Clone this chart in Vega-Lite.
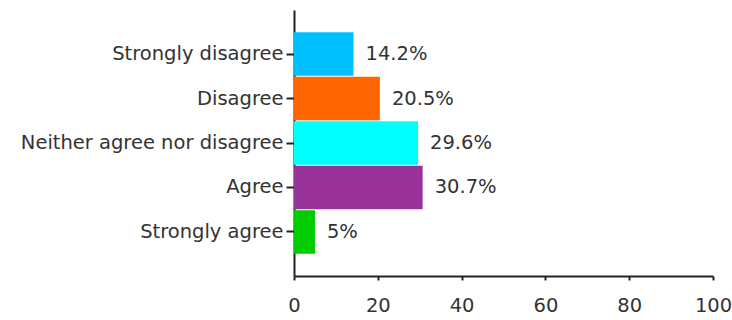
{
  "$schema": "https://vega.github.io/schema/vega-lite/v6.json",
  "autosize": "none",
  "width": 419,
  "height": 266,
  "padding": {"left": 294, "top": 10, "right": 19, "bottom": 44},
  "background": "white",
  "config": {"view": {"stroke": null}, "font": "DejaVu Sans"},
  "data": {"values": [
    {"response": "Strongly disagree", "pct": 14.2, "label": "14.2%", "color": "#00C0FF"},
    {"response": "Disagree", "pct": 20.5, "label": "20.5%", "color": "#FF6600"},
    {"response": "Neither agree nor disagree", "pct": 29.6, "label": "29.6%", "color": "#00FFFF"},
    {"response": "Agree", "pct": 30.7, "label": "30.7%", "color": "#993399"},
    {"response": "Strongly agree", "pct": 5, "label": "5%", "color": "#00CC00"}
  ]},
  "encoding": {
    "y": {
      "field": "response", "type": "nominal", "sort": null,
      "scale": {"paddingInner": 0.02, "paddingOuter": 0.5},
      "axis": {"title": null, "domainColor": "#222", "domainWidth": 2, "tickColor": "#222", "tickWidth": 2, "tickSize": 8,
               "labelFontSize": 19.5, "labelColor": "#333", "labelPadding": 3, "labelLimit": 400}
    },
    "x": {
      "field": "pct", "type": "quantitative",
      "scale": {"domain": [0, 100], "nice": false},
      "axis": {"title": null, "values": [0, 20, 40, 60, 80, 100], "grid": false, "domainColor": "#222", "domainWidth": 2,
               "tickColor": "#222", "tickWidth": 2, "tickSize": 4, "labelFontSize": 19.5, "labelColor": "#333", "labelPadding": 16,
               "labelFlush": false}
    }
  },
  "layer": [
    {"mark": {"type": "bar"}, "encoding": {"color": {"field": "color", "type": "nominal", "scale": null}}},
    {"mark": {"type": "text", "align": "left", "dx": 12, "fontSize": 19.5, "color": "#333"}, "encoding": {"text": {"field": "label"}}}
  ]
}
